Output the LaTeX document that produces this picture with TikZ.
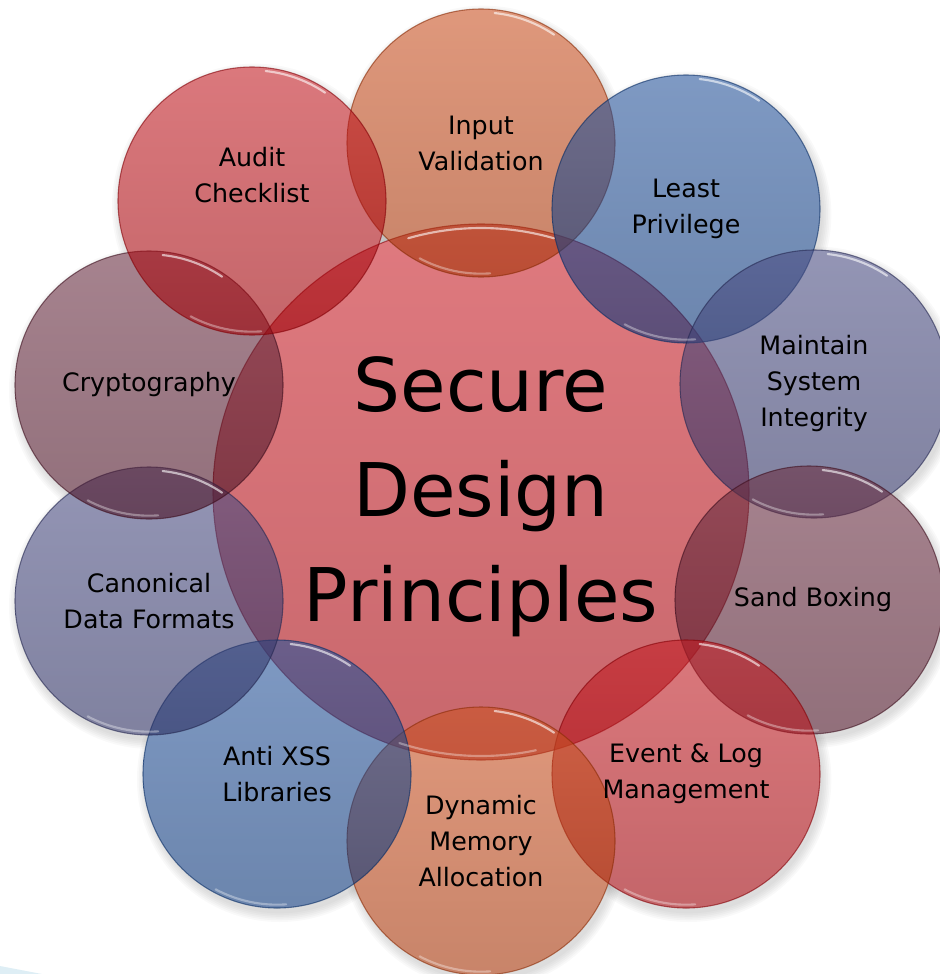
\documentclass[tikz,border=0pt]{standalone}
\usepackage{fontspec}
\setmainfont{DejaVu Sans}
\usetikzlibrary{positioning}

\definecolor{ballorange}{RGB}{195,60,7}
\definecolor{ballblue}{RGB}{12,63,142}
\definecolor{ballslate}{RGB}{52,55,115}
\definecolor{ballmauve}{RGB}{87,20,42}
\definecolor{ballred}{RGB}{187,0,8}
\definecolor{corered}{RGB}{195,3,13}
\definecolor{slideblue}{RGB}{222,238,245}

\begin{document}
\begin{tikzpicture}[x=0.75pt, y=-0.75pt,
  ball/.style={circle, inner sep=0pt, minimum size=201pt, top color=#1!88!white, bottom color=#1!84!black,
    fill opacity=0.6, draw=#1!70!black, draw opacity=0.6, line width=0.8pt},
  gloss/.style={white, line width=1.6pt, line cap=round, draw opacity=0.6},
  lbl/.style={font=\fontsize{19}{27}\selectfont, align=center},
  shadowc/.style={black, opacity=0.022}]
\useasboundingbox (0,0) rectangle (939,974);
\fill[slideblue] (0,966) -- (42,974) -- (0,974) -- cycle;

% centres
\coordinate (mid) at (481,492);
\coordinate (input) at (481,143);
\coordinate (least) at (686,209);
\coordinate (maintain) at (814,384);
\coordinate (sandbox) at (809,600);
\coordinate (event) at (686,774);
\coordinate (dynamic) at (481,841);
\coordinate (antixss) at (277,774);
\coordinate (canonical) at (149,601);
\coordinate (crypto) at (149,385);
\coordinate (audit) at (252,201);

% soft shadows, then a white base so they only show outside
\foreach \k in {0,...,5} {
  \pgfmathsetmacro\rbig{201+\k*1.3}
  \pgfmathsetmacro\rsmall{100.5+\k*1.3}
  \fill[shadowc] ([shift={(2pt,-4pt)}]mid) circle [radius=\rbig pt];
  \foreach \p in {input,least,maintain,sandbox,event,dynamic,antixss,canonical,crypto,audit}
    \fill[shadowc] ([shift={(2pt,-4pt)}]\p) circle [radius=\rsmall pt];
}
\fill[white] (mid) circle [radius=201pt];
\foreach \p in {input,least,maintain,sandbox,event,dynamic,antixss,canonical,crypto,audit}
  \fill[white] (\p) circle [radius=100.5pt];

\node[ball=corered, minimum size=402pt] (core) at (mid) {};
\node[ball=ballorange] (inputb) at (input) {};
\node[ball=ballblue] (leastb) at (least) {};
\node[ball=ballslate] (maintainb) at (maintain) {};
\node[ball=ballmauve] (sandboxb) at (sandbox) {};
\node[ball=ballred] (eventb) at (event) {};
\node[ball=ballorange] (dynamicb) at (dynamic) {};
\node[ball=ballblue] (antixssb) at (antixss) {};
\node[ball=ballslate] (canonicalb) at (canonical) {};
\node[ball=ballmauve] (cryptob) at (crypto) {};
\node[ball=ballred] (auditb) at (audit) {};

% highlights
\draw[gloss] ([shift={(74:198pt)}]core.center) arc [start angle=74, end angle=106, radius=198pt];
\draw[gloss, draw opacity=0.35] ([shift={(252:198pt)}]core.center) arc [start angle=252, end angle=282, radius=198pt];
\foreach \p in {inputb,leastb,maintainb,sandboxb,eventb,dynamicb,antixssb,canonicalb,cryptob,auditb} {
  \draw[gloss] ([shift={(56:98pt)}]\p.center) arc [start angle=56, end angle=84, radius=98pt];
  \draw[gloss, draw opacity=0.35] ([shift={(242:98pt)}]\p.center) arc [start angle=242, end angle=274, radius=98pt];
}

\node[lbl] (input-t) at (input) {Input\\Validation};
\node[lbl] (least-t) at (least) {Least\\Privilege};
\node[lbl] (maintain-t) at (maintain) {Maintain\\System\\Integrity};
\node[lbl] (sandbox-t) at (813,600) {Sand Boxing};
\node[lbl] (event-t) at (event) {Event \& Log\\Management};
\node[lbl] (dynamic-t) at (dynamic) {Dynamic\\Memory\\Allocation};
\node[lbl] (antixss-t) at (antixss) {Anti XSS\\Libraries};
\node[lbl] (canonical-t) at (canonical) {Canonical\\Data Formats};
\node[lbl] (crypto-t) at (crypto) {Cryptography};
\node[lbl] (audit-t) at (252,175) {Audit\\Checklist};
\node[font=\fontsize{55.5}{78.75}\selectfont, align=center] (title) at (481,497) {Secure\\Design\\Principles};
\end{tikzpicture}
\end{document}
